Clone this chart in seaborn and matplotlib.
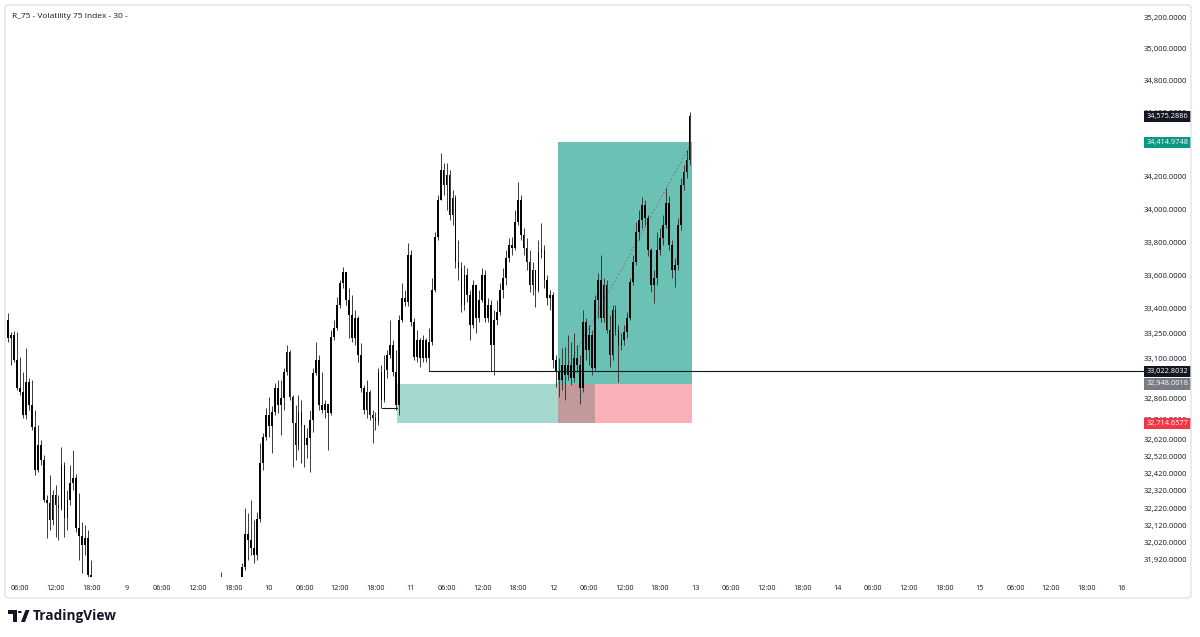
import numpy as np
import matplotlib
matplotlib.use("Agg")
import matplotlib.pyplot as plt
import matplotlib.ticker as mticker
from matplotlib.patches import Rectangle, Polygon, Circle, FancyBboxPatch
from matplotlib.transforms import blended_transform_factory
import seaborn as sns

# x axis is hours counted from day "8" 00:00, one candle every 30 min
title = "R_75 - Volatility 75 Index - 30 -"

# first visible run of candles (day 8, 04:00 -> 18:00)
seg1_start = 4.0
seg1_open0 = 33330
seg1_close = [33222, 33240, 33091, 32924, 32900, 32765, 32960, 32824, 32694, 32442,
              32588, 32500, 32267, 32249, 32151, 32296, 32238, 32220, 32471, 32162,
              32267, 32365, 32395, 32105, 32058, 32006, 32047, 31834, 31691]
seg1_high = [33372, 33258, 33264, 33258, 33109, 33019, 33162, 32984, 32972, 32794,
             32706, 32617, 32530, 32296, 32413, 32325, 32354, 32296, 32576, 32489,
             32325, 32471, 32559, 32420, 32308, 32140, 32122, 32093, 31920]
seg1_low = [33198, 33061, 33079, 32912, 32883, 32747, 32740, 32794, 32676, 32413,
            32430, 32471, 32255, 32047, 32093, 32122, 32052, 32035, 32209, 32052,
            32093, 32238, 32325, 32082, 31920, 31845, 31948, 31748, 31635]

# second run (day 9, 16:00 -> day 12, 23:00)
seg2_start = 40.0
seg2_open0 = 31748
seg2_close = [31691, 31663, 31623, 31691, 31646, 31714, 31748, 31880, 32070, 32035,
              31989, 31948, 32157, 32483, 32635, 32765, 32700, 32782, 32924, 32824,
              32865, 33019, 33138, 32871, 32718, 32588, 32782, 32706, 32588, 32629,
              32735, 33013, 33091, 32824, 32794, 32830, 32777, 33228, 33282, 33420,
              33553, 33620, 33450, 33360, 33222, 33342, 33121, 32924, 32794, 32900,
              32765, 32747, 32729, 33019, 32853, 33031, 33121, 33180, 33019, 32824,
              33330, 33462, 33438, 33723, 33318, 33109, 33210, 33103, 33210, 33103,
              33198, 33511, 33832, 34058, 34243, 34150, 34212, 33967, 34070, 33680,
              33644, 33420, 33602, 33481, 33300, 33541, 33342, 33450, 33602, 33342,
              33420, 33180, 33330, 33378, 33511, 33583, 33705, 33784, 33766, 33924,
              34058, 33845, 33766, 33680, 33541, 33632, 33511, 33741, 33753, 33571,
              33462, 33481, 33091, 33019, 32972, 33061, 33001, 33061, 32984, 33103,
              33061, 32924, 33318, 33150, 33240, 33043, 33450, 33571, 33342, 33541,
              33270, 33121, 33390, 33270, 33180, 33210, 33258, 33342, 33559, 33680,
              33863, 33936, 34028, 33948, 33753, 33541, 33583, 33753, 33827, 33906,
              34040, 33784, 33632, 33662, 33906, 34150, 34231, 34305, 34575.2886]
seg2_high = [31851, 31760, 31720, 31748, 31737, 31777, 31817, 31903, 32220, 32191,
             32267, 32151, 32197, 32600, 32658, 32806, 32871, 32818, 32954, 32972,
             32972, 33043, 33180, 33150, 32883, 32824, 32883, 32853, 32694, 32688,
             32794, 33043, 33198, 33121, 33019, 32853, 32824, 33270, 33330, 33468,
             33571, 33650, 33602, 33523, 33481, 33390, 33354, 33192, 32942, 32972,
             32912, 32794, 32782, 33043, 33061, 33121, 33150, 33330, 33210, 33150,
             33360, 33553, 33511, 33796, 33753, 33342, 33270, 33222, 33240, 33222,
             33282, 33583, 33863, 34089, 34348, 34286, 34286, 34243, 34120, 34089,
             33814, 33680, 33662, 33644, 33511, 33571, 33541, 33511, 33644, 33632,
             33462, 33450, 33390, 33450, 33553, 33644, 33753, 33827, 33833, 33997,
             34169, 34089, 33887, 33827, 33753, 33680, 33602, 33814, 33918, 33784,
             33602, 33511, 33499, 33121, 33103, 33162, 33168, 33240, 33198, 33252,
             33180, 33121, 33390, 33342, 33300, 33270, 33481, 33614, 33723, 33583,
             33571, 33360, 33420, 33420, 33300, 33252, 33300, 33378, 33583, 33723,
             33924, 33997, 34076, 34058, 33967, 33766, 33632, 33863, 33887, 33967,
             34132, 34082, 33814, 33705, 33948, 34194, 34274, 34367, 34603]
seg2_low = [31606, 31589, 31550, 31578, 31589, 31623, 31663, 31720, 31862, 31920,
            31948, 31903, 31920, 32140, 32442, 32617, 32635, 32541, 32765, 32777,
            32647, 32794, 33001, 32853, 32459, 32500, 32559, 32483, 32459, 32512,
            32430, 32664, 33001, 32794, 32777, 32747, 32559, 32765, 33210, 33270,
            33402, 33523, 33420, 33222, 33198, 33180, 33079, 32900, 32771, 32747,
            32735, 32600, 32676, 32706, 32806, 32841, 32984, 33103, 32996, 32794,
            32765, 33318, 33414, 33414, 33294, 33091, 33079, 33049, 33079, 33079,
            33022.8032, 33180, 33499, 33814, 34058, 34089, 33997, 33936, 33906, 33644,
            33571, 33378, 33390, 33438, 33210, 33282, 33252, 33318, 33438, 33318,
            33318, 33025, 33001, 33300, 33360, 33462, 33541, 33680, 33723, 33753,
            33906, 33814, 33723, 33632, 33499, 33481, 33408, 33499, 33705, 33523,
            33420, 33390, 33043, 32930, 32871, 32912, 32853, 32972, 32942, 32960,
            33019, 32830, 32900, 33091, 33061, 33001, 33031, 33342, 33318, 33318,
            33252, 33049, 33091, 33240, 32960, 33150, 33180, 33222, 33330, 33541,
            33662, 33814, 33887, 33906, 33717, 33499, 33432, 33541, 33723, 33784,
            33887, 33753, 33583, 33529, 33632, 33875, 34120, 34194, 34274]

# drawings
last_price = 34575.2886
target_price = 34414.9748
ray_price = 33022.8032
entry_price = 32948.0018
stop_price = 32714.6577
small_level = 32807
ray_start = 75.0
small_span = (67.1, 69.6)
zone_span = (69.6, 103.0)
position_span = (96.8, 119.4)

ytick_vals = [35200, 35000, 34800, 34600, 34200, 34000, 33800, 33600, 33400, 33250,
              33100, 32860, 32740, 32620, 32520, 32420, 32320, 32220, 32120, 32020, 31920]
xtick_hours = list(range(6, 193, 6))


def candles(start, open0, closes, highs, lows):
    closes = np.asarray(closes, float)
    opens = np.r_[open0, closes[:-1]]
    highs = np.maximum(np.asarray(highs, float), np.maximum(opens, closes))
    lows = np.minimum(np.asarray(lows, float), np.minimum(opens, closes))
    t = start + 0.5 * np.arange(len(closes))
    return t, opens, highs, lows, closes


def hour_label(h):
    if h % 24 == 0:
        return str(8 + h // 24)
    return f"{h % 24:02d}:00"


sns.set_theme(style="white")
plt.rcParams["font.family"] = ["Open Sans", "DejaVu Sans"]

W, H = 1200, 637
fig = plt.figure(figsize=(12, 6.37), dpi=100)
fx = lambda px: px / W
fy = lambda py: 1 - py / H

ax = fig.add_axes([fx(6), fy(577), fx(1137) - fx(6), fy(6) - fy(577)])
ax.set_yscale("log")
ax.set_xlim(3.64, 194.52)
ax.set_ylim(31822, 35270)

ink = "#131722"
for seg in [(seg1_start, seg1_open0, seg1_close, seg1_high, seg1_low),
            (seg2_start, seg2_open0, seg2_close, seg2_high, seg2_low)]:
    t, o, h, l, c = candles(*seg)
    ax.vlines(t, l, h, color="#3a3a3a", lw=0.7, zorder=3)
    body_lo = np.minimum(o, c)
    body_h = np.maximum(np.abs(c - o), 3.0)
    ax.bar(t, body_h, bottom=body_lo, width=0.29, color="#050505", lw=0, zorder=4)

# demand zone + long position tool
ax.add_patch(Rectangle((zone_span[0], stop_price), zone_span[1] - zone_span[0],
                       entry_price - stop_price, fc="#089981", alpha=0.37, lw=0, zorder=1))
p0, p1 = position_span
ax.add_patch(Rectangle((p0, entry_price), p1 - p0, target_price - entry_price,
                       fc="#089981", alpha=0.6, lw=0, zorder=1))
ax.add_patch(Rectangle((p0, stop_price), p1 - p0, entry_price - stop_price,
                       fc="#F23645", alpha=0.38, lw=0, zorder=2))
sns.lineplot(x=[p0, p1], y=[entry_price, target_price], ax=ax, color="#787b86",
             lw=0.8, linestyle=(0, (1.5, 2)), zorder=2)

# horizontal lines
ax.plot([ray_start, 196.0], [ray_price, ray_price], color=ink, lw=0.8, zorder=5, clip_on=False)
ax.plot(small_span, [small_level, small_level], color=ink, lw=0.8, zorder=5)

# axes styling
for s in ax.spines.values():
    s.set_visible(False)
ax.yaxis.tick_right()
ax.yaxis.set_major_locator(mticker.FixedLocator(ytick_vals))
ax.yaxis.set_minor_locator(mticker.NullLocator())
ax.yaxis.set_major_formatter(mticker.FuncFormatter(lambda v, _: f"{v:,.4f}"))
ax.set_xticks(xtick_hours)
ax.set_xticklabels([hour_label(h) for h in xtick_hours])
ax.tick_params(axis="y", length=0, pad=5, labelsize=5.5, labelcolor=ink)
ax.tick_params(axis="x", length=0, pad=6, labelsize=5.2, labelcolor=ink)
ax.grid(False)
ax.set_xlabel("")
ax.set_ylabel("")

# price labels on the scale
tr = blended_transform_factory(ax.transAxes, ax.transData)
for price, fc in [(last_price, ink), (target_price, "#089981"), (ray_price, ink),
                  (entry_price, "#787b86"), (stop_price, "#F23645")]:
    ax.text(1.0085, price, f"{price:,.4f}", transform=tr, fontsize=5.3, color="white",
            va="center", ha="left", zorder=8, clip_on=False,
            bbox=dict(boxstyle="square,pad=0.3", fc=fc, ec="none"))

# frame, title, logo
fig.add_artist(FancyBboxPatch((fx(5), fy(598)), fx(1191) - fx(5), fy(5) - fy(598),
                              boxstyle="round,pad=0,rounding_size=0.004",
                              transform=fig.transFigure, fc="none", ec="#e0e3eb", lw=1))
fig.text(fx(12), fy(17), title, fontsize=6, color=ink, va="center", ha="left")

logo = [Polygon([(fx(8), fy(610)), (fx(17), fy(610)), (fx(17), fy(622)),
                 (fx(13), fy(622)), (fx(13), fy(614)), (fx(8), fy(614))], closed=True),
        Circle((fx(19.8), fy(612)), 2.0 / W),
        Polygon([(fx(25.5), fy(610)), (fx(29.5), fy(610)), (fx(25), fy(622)),
                 (fx(21), fy(622))], closed=True)]
for p in logo:
    p.set_transform(fig.transFigure)
    p.set_facecolor(ink)
    p.set_edgecolor("none")
    fig.add_artist(p)
fig.text(fx(33), fy(616), "TradingView", fontsize=9.8, fontweight="bold",
         color=ink, va="center", ha="left")

fig.savefig("out.png", dpi=100)
